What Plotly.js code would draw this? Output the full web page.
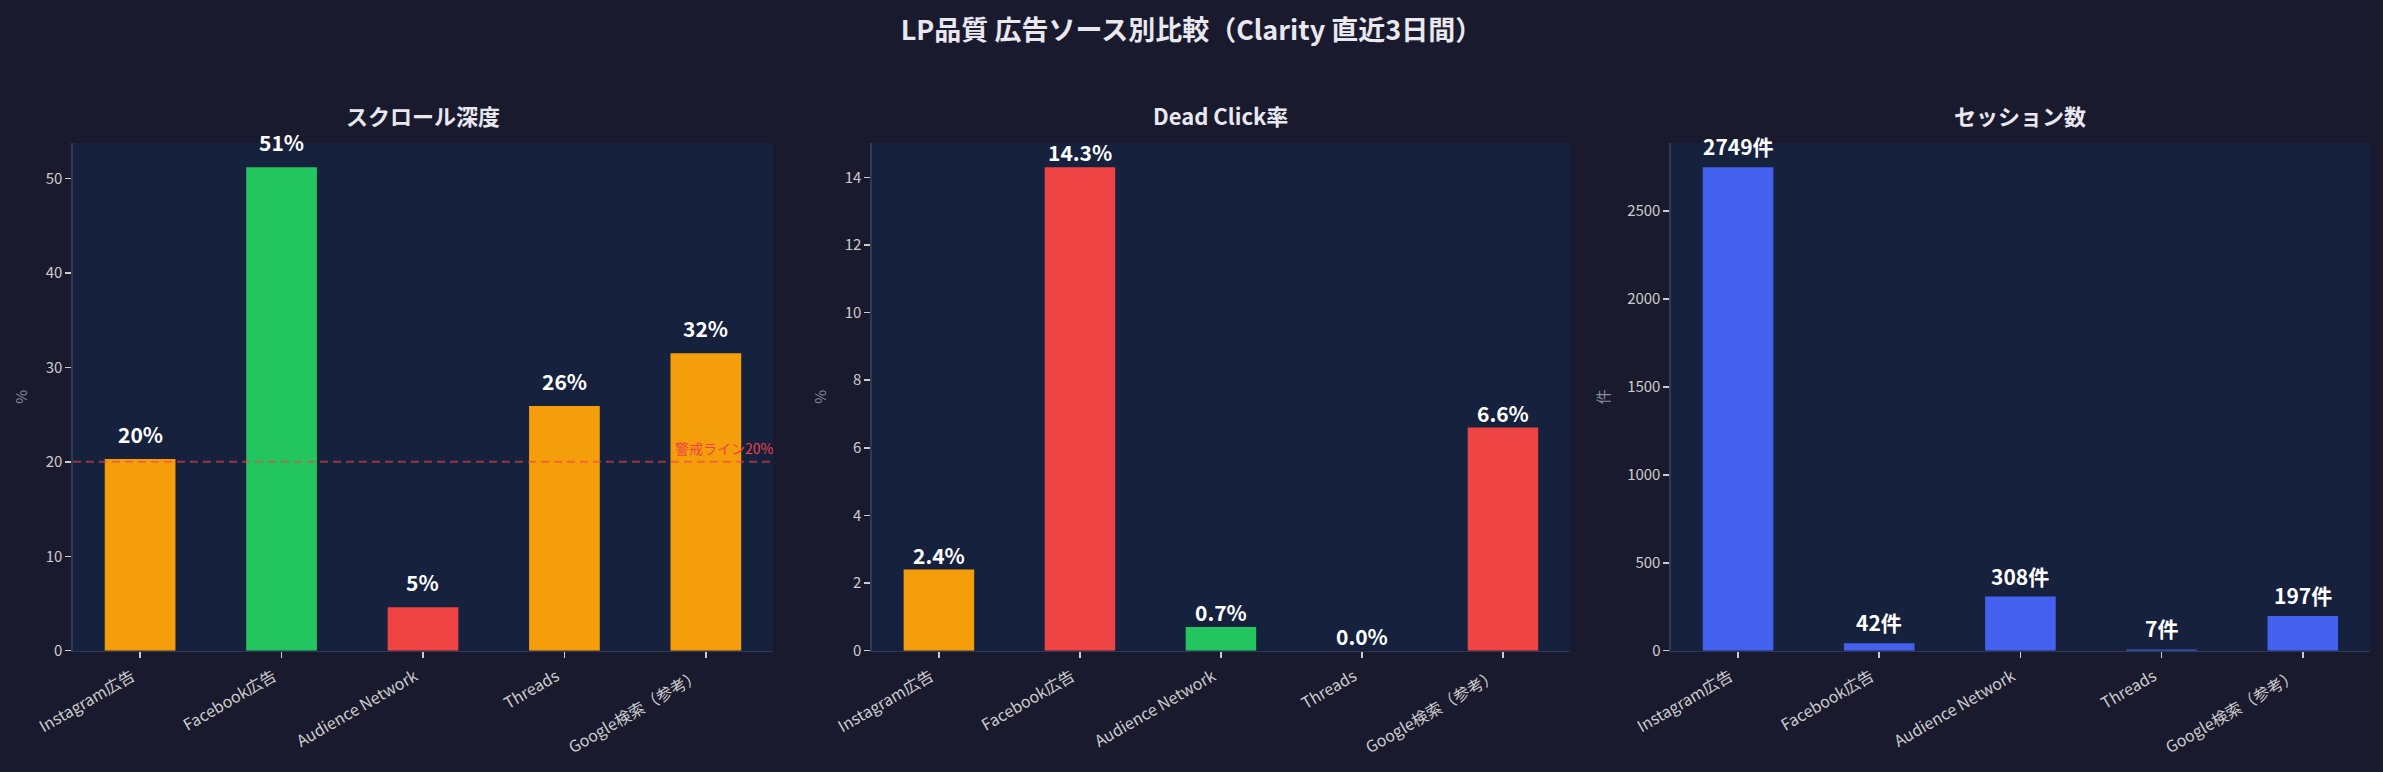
<!DOCTYPE html>
<html>
<head>
<meta charset="utf-8">
<script src="https://cdn.plot.ly/plotly-3.0.1.min.js"></script>
<style>
  html, body { margin: 0; padding: 0; background: #1a1a2e; }
  #chart { width: 2383px; height: 772px; }
</style>
</head>
<body>
<div id="chart"></div>
<script>
// ── Data (Clarity, last 3 days) ──────────────────────────────────
const sources     = ['Instagram広告', 'Facebook広告', 'Audience Network', 'Threads', 'Google検索（参考）'];
const scrollDepth = [20.3, 51.2, 4.6, 25.9, 31.5];   // %
const deadClick   = [2.4, 14.3, 0.7, 0.0, 6.6];      // %
const sessions    = [2749, 42, 308, 7, 197];         // 件
const warnLine    = 20;

const THEME = {
  paper: '#1a1a2e',
  plot: '#16213e',
  spine: '#2e3a56',
  tick: '#cccccc',
  label: '#8a8a9a',
  text: '#e8e8ee',
  orange: '#f59e0b',
  green: '#22c55e',
  red: '#ef4444',
  blue: '#4361ee',
};
const FONT = "'Noto Sans CJK JP', 'Noto Sans', sans-serif";

const scrollColor = v => v >= 40 ? THEME.green : v >= 20 ? THEME.orange : THEME.red;
const deadColor   = v => v < 1 ? THEME.green : v < 5 ? THEME.orange : THEME.red;

const DOMAINS = [[0.0306, 0.3244], [0.3659, 0.6588], [0.7012, 0.9945]];
const Y_DOMAIN = [0.1571, 0.8148];

function axisPair(i, yMax, dtick, ytitle) {
  const x = {
    domain: DOMAINS[i],
    range: [-0.475, 4.475],
    showline: true, linecolor: THEME.spine, linewidth: 1.5,
    ticks: 'outside', ticklen: 6, tickwidth: 1.5, tickcolor: THEME.tick,
    tickangle: -30,
    ticklabelshift: -8,
    ticklabelstandoff: 3,
    tickfont: { family: FONT, color: THEME.tick, size: 16 },
    showgrid: false, zeroline: false,
    anchor: i === 0 ? 'y' : 'y' + (i + 1),
    fixedrange: true,
  };
  const y = {
    domain: Y_DOMAIN,
    range: [0, yMax * 1.05],
    dtick,
    showline: true, linecolor: THEME.spine, linewidth: 1.5,
    ticks: 'outside', ticklen: 6, tickwidth: 1.5, tickcolor: THEME.tick,
    tickfont: { family: FONT, color: THEME.tick, size: 15 },
    showgrid: false, zeroline: false,
    title: { text: ytitle, font: { family: FONT, color: THEME.label, size: 15 }, standoff: 14 },
    anchor: i === 0 ? 'x' : 'x' + (i + 1),
    fixedrange: true,
  };
  return [x, y];
}

const panels = [
  { title: 'スクロール深度', values: scrollDepth, colors: scrollDepth.map(scrollColor),
    fmt: v => Math.round(v) + '%', dtick: 10, ytitle: '%', shift: 8 },
  { title: 'Dead Click率', values: deadClick, colors: deadClick.map(deadColor),
    fmt: v => v.toFixed(1) + '%', dtick: 2, ytitle: '%', shift: -2 },
  { title: 'セッション数', values: sessions, colors: sessions.map(() => THEME.blue),
    fmt: v => v + '件', dtick: 500, ytitle: '件', shift: 4 },
];

const traces = [];
const annotations = [];
const layout = {
  width: 2383, height: 772,
  paper_bgcolor: THEME.paper,
  plot_bgcolor: 'rgba(0,0,0,0)',
  margin: { l: 0, r: 0, t: 0, b: 0 },
  showlegend: false,
  font: { family: FONT, color: THEME.text },
  title: {
    text: 'LP品質 広告ソース別比較（Clarity 直近3日間）',
    font: { family: FONT, size: 27, color: THEME.text, weight: 'bold' },
    x: 0.5, xanchor: 'center', y: 0.961, yanchor: 'middle',
  },
  shapes: [],
};

panels.forEach((p, i) => {
  const xa = i === 0 ? 'x' : 'x' + (i + 1);
  const ya = i === 0 ? 'y' : 'y' + (i + 1);
  const [xax, yax] = axisPair(i, Math.max(...p.values), p.dtick, p.ytitle);
  layout[i === 0 ? 'xaxis' : 'xaxis' + (i + 1)] = xax;
  layout[i === 0 ? 'yaxis' : 'yaxis' + (i + 1)] = yax;

  // plot background per subplot
  layout.shapes.push({
    type: 'rect', xref: xa + ' domain', yref: ya + ' domain',
    x0: 0, x1: 1, y0: 0, y1: 1, fillcolor: THEME.plot, line: { width: 0 }, layer: 'below',
  });

  traces.push({
    type: 'bar', x: sources, y: p.values, xaxis: xa, yaxis: ya,
    width: 0.5,
    marker: { color: p.colors, line: { width: 0 } },
    hoverinfo: 'skip',
  });

  p.values.forEach((v, k) => {
    annotations.push({
      xref: xa, yref: ya, x: sources[k], y: v,
      text: p.fmt(v), showarrow: false,
      xanchor: 'center', yanchor: 'bottom', yshift: p.shift,
      font: { family: FONT, size: 21, color: '#ffffff', weight: 'bold' },
    });
  });

  annotations.push({
    xref: 'paper', yref: 'paper',
    x: (DOMAINS[i][0] + DOMAINS[i][1]) / 2, y: 0.851,
    text: p.title, showarrow: false, xanchor: 'center', yanchor: 'middle',
    font: { family: FONT, size: 22, color: THEME.text, weight: 'bold' },
  });
});

// warning line on scroll depth
layout.shapes.push({
  type: 'line', xref: 'x domain', yref: 'y', x0: 0, x1: 1, y0: warnLine, y1: warnLine,
  line: { color: 'rgba(239,68,68,0.6)', width: 2, dash: '8px,5px' },
});
annotations.push({
  xref: 'x domain', yref: 'y', x: 1.004, y: warnLine,
  text: '警戒ライン' + warnLine + '%', showarrow: false,
  xanchor: 'right', yanchor: 'bottom', yshift: 2,
  font: { family: FONT, size: 14, color: THEME.red },
});

layout.annotations = annotations;

Plotly.newPlot('chart', traces, layout, { displayModeBar: false, staticPlot: true });
</script>
</body>
</html>
